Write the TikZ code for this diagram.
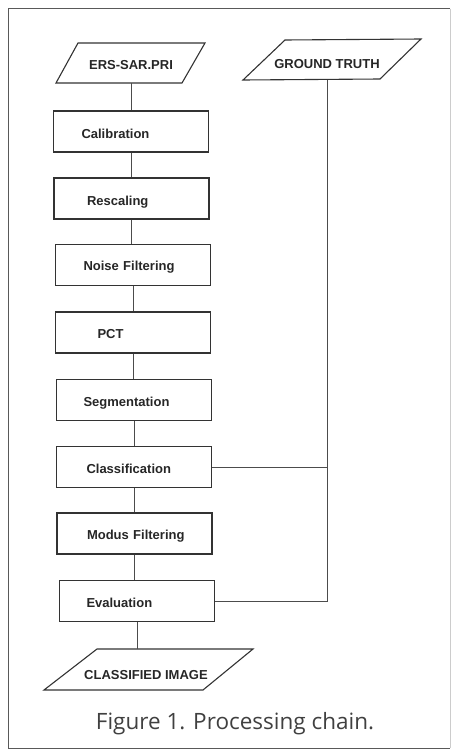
\documentclass[tikz,border=0pt]{standalone}
\usepackage{fontspec}
\setmainfont{Liberation Sans}
\newfontfamily\capfont{Open Sans}
\usetikzlibrary{calc}
\begin{document}
\begin{tikzpicture}[x=1pt,y=-1pt,
  boxline/.style={draw=black!80,line width=1.1pt},
  stepbox/.style={boxline,rectangle,minimum height=41pt,inner xsep=0pt,inner ysep=0pt,
    text height=0pt,text depth=0pt,
    text width=155pt,align=left,font=\fontsize{13}{15}\selectfont\bfseries,text=black!85},
  iotext/.style={inner sep=0pt,minimum height=40pt,text height=0pt,text depth=0pt,
    font=\fontsize{13}{15}\selectfont\bfseries,text=black!85},
  conn/.style={draw=black!70,line width=0.8pt}]
\useasboundingbox (0,0) rectangle (453,752);
% frame
\draw[black!65,line width=1pt] (450,9) -- (8,9) -- (8,748) -- (450,748);
\draw[black!20,line width=0.8pt] (450,9) -- (450,748);
% input / output shapes
\draw[boxline] (56,83) -- (78,43) -- (205,43) -- (182,83) -- cycle;
\node[iotext] (ers) at (131,63) {\raisebox{-6.6pt}{ERS-SAR.PRI}};
\draw[boxline] (243,80) -- (285,40) -- (421,39) -- (380,79) -- cycle;
\node[iotext] (gt) at (327,60) {\raisebox{-8pt}{GROUND TRUTH}};
\draw[boxline] (44,690) -- (97,649) -- (253,649) -- (203,690) -- cycle;
\node[iotext,minimum height=41pt] (ci) at (146,670) {\raisebox{-9.5pt}{CLASSIFIED IMAGE}};
% process boxes
\node[stepbox] (cal) at (131,131.5) {\hspace*{28pt}\raisebox{-6.5pt}{Calibration}};
\node[stepbox] (res) at (131.5,198.5) {\hspace*{33pt}\raisebox{-6.5pt}{Rescaling}};
\node[stepbox] (noi) at (133,265) {\hspace*{28pt}\raisebox{-5.5pt}{Noise Filtering}};
\node[stepbox] (pct) at (133,332.5) {\hspace*{42pt}\raisebox{-5.5pt}{PCT}};
\node[stepbox] (seg) at (134,400) {\hspace*{27pt}\raisebox{-6pt}{Segmentation}};
\node[stepbox] (cls) at (134,467) {\hspace*{30pt}\raisebox{-6pt}{Classification}};
\node[stepbox] (mod) at (134.5,533.5) {\hspace*{30pt}\raisebox{-5.5pt}{Modus Filtering}};
\node[stepbox] (eva) at (137,601) {\hspace*{27pt}\raisebox{-6.5pt}{Evaluation}};
% connectors
\draw[conn] (ers.south) -- (ers.south |- cal.north);
\draw[conn] (cal.south) -- (cal.south |- res.north);
\draw[conn] (res.south) -- (res.south |- noi.north);
\draw[conn] (noi.south) -- (noi.south |- pct.north);
\draw[conn] (pct.south) -- (pct.south |- seg.north);
\draw[conn] (seg.south) -- (seg.south |- cls.north);
\draw[conn] (cls.south) -- (cls.south |- mod.north);
\draw[conn] (mod.south) -- (mod.south |- eva.north);
\draw[conn] (eva.south) -- (eva.south |- ci.north);
\draw[conn] (gt.south) -- (gt.south |- eva.east) -- (eva.east);
\draw[conn] (cls.east) -- (cls.east -| gt.south);
% caption
\node[anchor=base,inner sep=0pt,font=\capfont\fontsize{22.5}{26}\selectfont,text=black!75] (cap) at (235,729) {Figure 1. Processing chain.};
\end{tikzpicture}
\end{document}
